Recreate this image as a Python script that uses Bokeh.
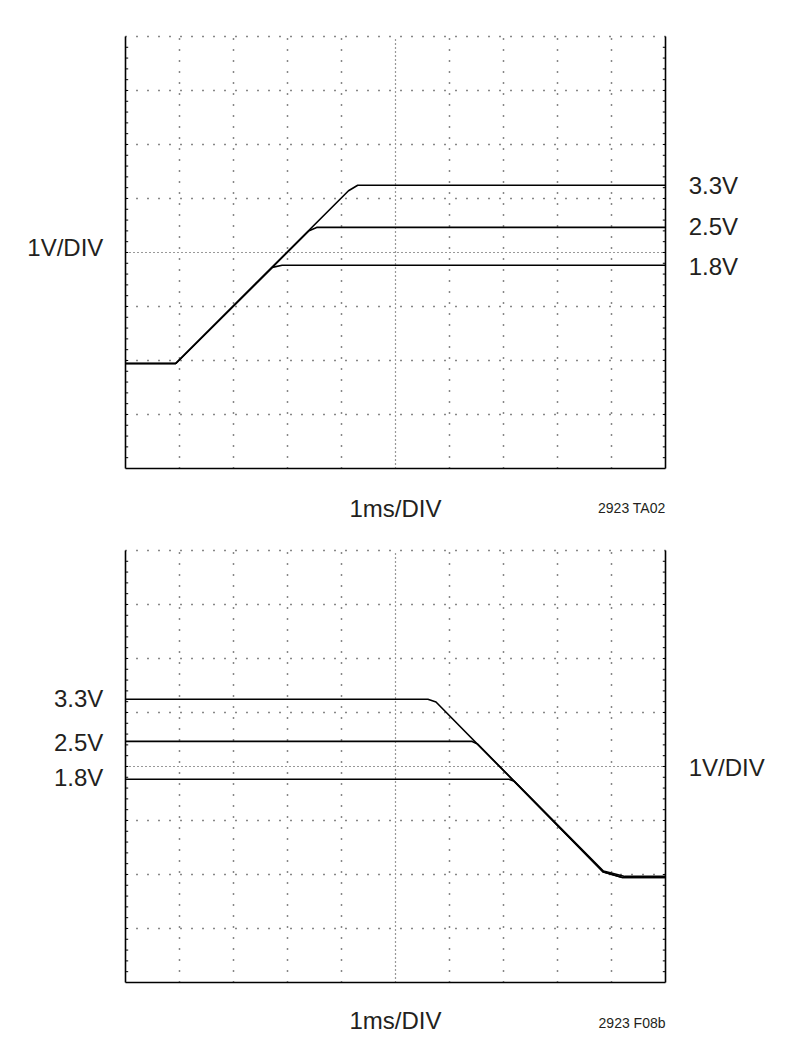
from bokeh.plotting import figure
from bokeh.models import Range1d, Label
from bokeh.layouts import column
from bokeh.embed import file_html
from bokeh.resources import INLINE

# ---- data (time in ms, voltage in V) ----
up_t_33 = [0, 0.93, 4.13, 4.30, 10]
up_v_33 = [0, 0, 3.20, 3.30, 3.30]
up_t_25 = [0, 0.93, 3.40, 3.54, 10]
up_v_25 = [0, 0, 2.46, 2.52, 2.52]
up_t_18 = [0, 0.93, 2.72, 2.90, 10]
up_v_18 = [0, 0, 1.78, 1.82, 1.82]

dn_t_33 = [0, 5.60, 5.75, 8.85, 9.20, 10]
dn_v_33 = [3.30, 3.30, 3.25, 0.10, 0.0, 0.0]
dn_t_25 = [0, 6.42, 6.52, 8.85, 9.25, 10]
dn_v_25 = [2.52, 2.52, 2.47, 0.12, 0.02, 0.02]
dn_t_18 = [0, 7.10, 7.20, 8.85, 9.20, 10]
dn_v_18 = [1.82, 1.82, 1.78, 0.10, 0.0, 0.0]

level_labels = ["3.3V", "2.5V", "1.8V"]
level_pos_up = [3.30, 2.54, 1.80]
level_pos_dn = [3.31, 2.50, 1.85]

# screen: 10 x 8 divisions, 1 ms/div, 1 V/div
X0, X1 = 0, 10
YB = -1.944
YT = YB + 8
PX = 54.0            # pixels per division
LEFT_PX = 125        # scope left edge on page
W = 774

FONT = "Liberation Sans"
TXT = "#231f20"
GRID = "#111111"


def scope(height, zero_px):
    yr = Range1d(-(height - zero_px) / PX, zero_px / PX)
    xr = Range1d(-LEFT_PX / PX, (W - LEFT_PX) / PX)
    p = figure(width=W, height=height, output_backend="svg", toolbar_location=None,
               x_range=xr, y_range=yr, min_border=0,
               x_axis_type=None, y_axis_type=None)
    p.outline_line_color = None
    p.xgrid.visible = False
    p.ygrid.visible = False
    p.background_fill_color = "white"
    p.border_fill_color = "white"

    # dotted graticule
    gx = [1, 2, 3, 4, 6, 7, 8, 9]
    p.segment(x0=gx, y0=[YB] * len(gx), x1=gx, y1=[YT] * len(gx),
              line_color=GRID, line_width=1.5, line_dash="1 10")
    gy = [YB + k for k in (1, 2, 3, 5, 6, 7, 8)]
    p.segment(x0=[X0] * len(gy), y0=gy, x1=[X1] * len(gy), y1=gy,
              line_color=GRID, line_width=1.5, line_dash="1 10")
    # centre lines
    p.segment(x0=[5], y0=[YB], x1=[5], y1=[YT],
              line_color="#333333", line_width=1.2, line_dash="1 3")
    p.segment(x0=[X0], y0=[YB + 4], x1=[X1], y1=[YB + 4],
              line_color="#333333", line_width=1.2, line_dash="1 3")
    # solid borders: left, right, bottom
    p.segment(x0=[X0, X1, X0], y0=[YB, YB, YB], x1=[X0, X1, X1], y1=[YT, YT, YB],
              line_color="black", line_width=1.6)
    # inner minor ticks on left / right borders
    my = [YB + 0.2 * i for i in range(1, 40)]
    n = len(my)
    p.segment(x0=[X0] * n, y0=my, x1=[X0 + 0.05] * n, y1=my, line_color="black", line_width=1)
    p.segment(x0=[X1] * n, y0=my, x1=[X1 - 0.05] * n, y1=my, line_color="black", line_width=1)
    return p


def label(p, x, y, text, align, size):
    p.add_layout(Label(x=x, y=y, text=text, text_align=align, text_baseline="middle",
                       text_font=FONT, text_font_size=size, text_color=TXT))


# ---- top: power-up ----
p1 = scope(540, 363)
for t, v in ((up_t_33, up_v_33), (up_t_25, up_v_25), (up_t_18, up_v_18)):
    p1.line(t, v, line_color="black", line_width=1.6)
label(p1, -0.41, 2.15, "1V/DIV", "right", "24px")
for txt, y in zip(level_labels, level_pos_up):
    label(p1, 10.43, y, txt, "left", "24px")
label(p1, 5, -2.69, "1ms/DIV", "center", "24px")
label(p1, 10, -2.67, "2923 TA02", "right", "14px")

# ---- bottom: power-down ----
p2 = scope(502, 337)
for t, v in ((dn_t_33, dn_v_33), (dn_t_25, dn_v_25), (dn_t_18, dn_v_18)):
    p2.line(t, v, line_color="black", line_width=1.6)
for txt, y in zip(level_labels, level_pos_dn):
    label(p2, -0.41, y, txt, "right", "24px")
label(p2, 10.43, 2.04, "1V/DIV", "left", "24px")
label(p2, 5, -2.65, "1ms/DIV", "center", "24px")
label(p2, 10, -2.70, "2923 F08b", "right", "14px")

layout = column(p1, p2, spacing=0)
open("out.html", "w").write(file_html(layout, INLINE))
